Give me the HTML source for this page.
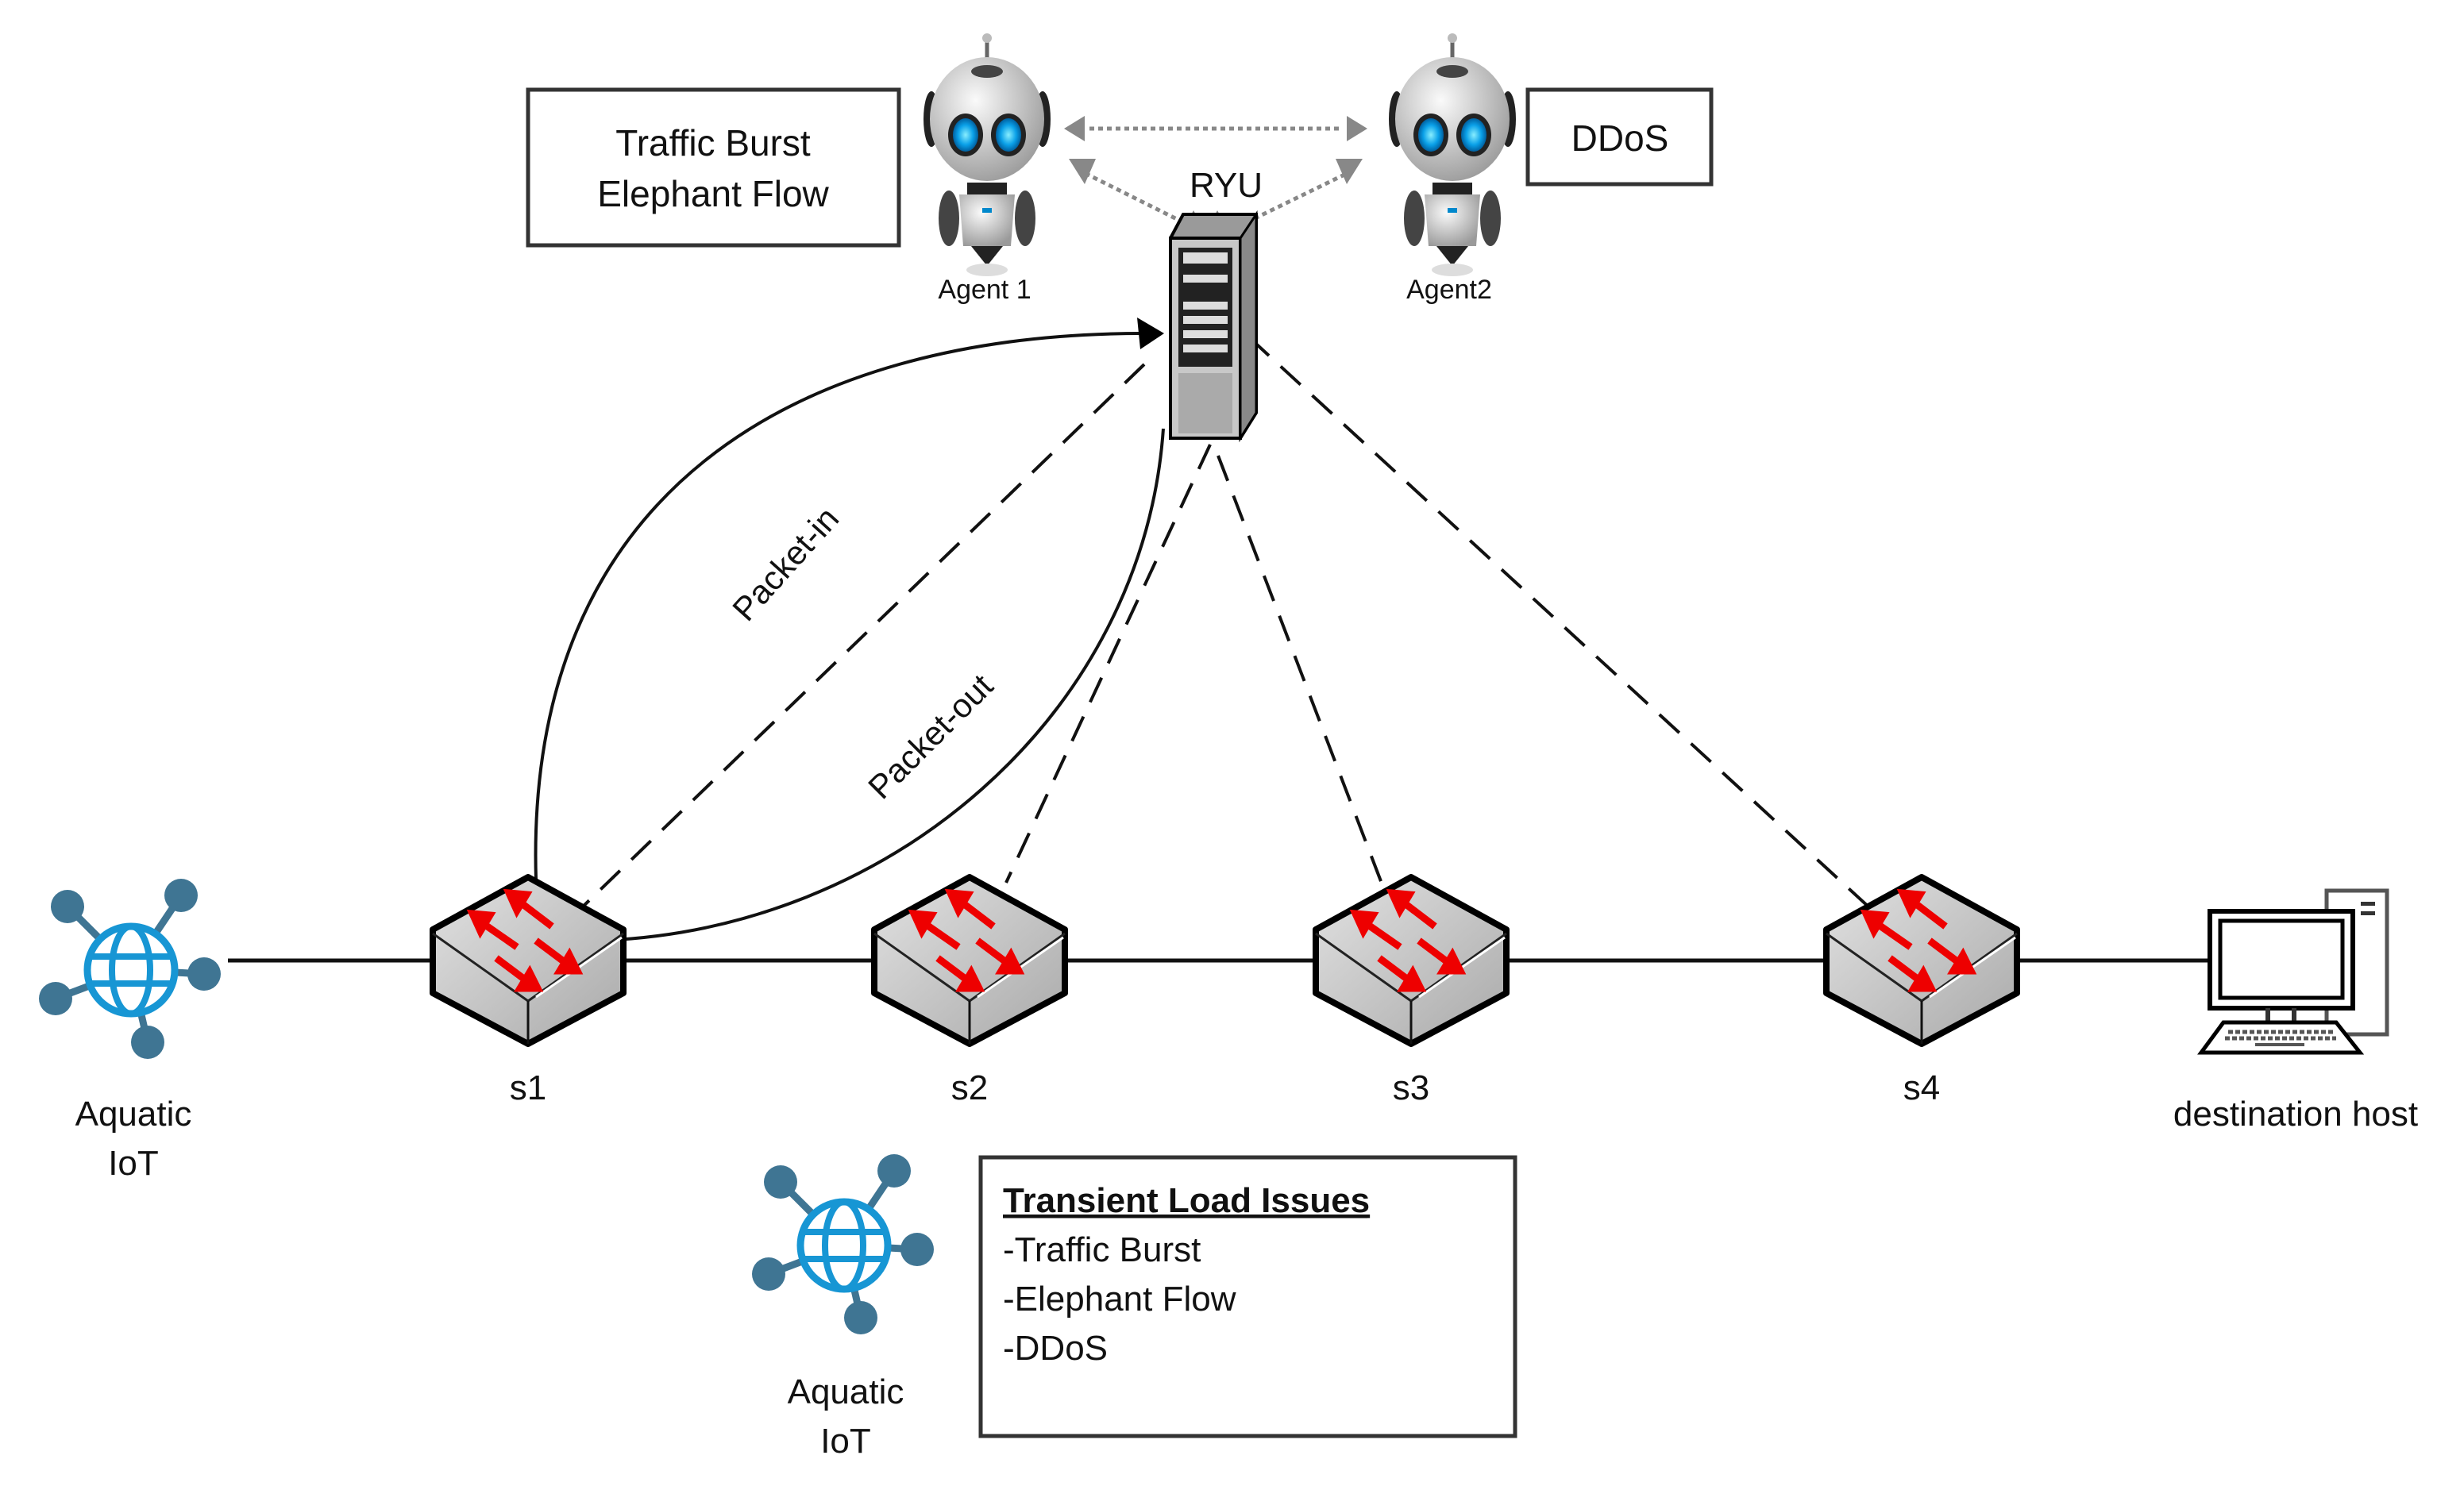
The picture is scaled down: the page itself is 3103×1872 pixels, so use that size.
<!DOCTYPE html>
<html><head><meta charset="utf-8"><style>
html,body{margin:0;padding:0;background:#fff;}
svg{display:block;}
text{font-family:"Liberation Sans",sans-serif;fill:#111;}
</style></head><body>
<svg width="3103" height="1872" viewBox="0 0 3103 1872" xmlns="http://www.w3.org/2000/svg">
<defs>
  <marker id="ah" viewBox="0 0 10 10" refX="9" refY="5" markerWidth="7" markerHeight="7" orient="auto-start-reverse" markerUnits="userSpaceOnUse">
  </marker>
  <linearGradient id="sg" x1="0" y1="0" x2="1" y2="1"><stop offset="0" stop-color="#e2e2e2"/><stop offset="1" stop-color="#a9a9a9"/></linearGradient>
  <g id="sw">
    <polygon points="0,-106 120,-40 120,40 0,104 -120,40 -120,-40" fill="url(#sg)" stroke="#000" stroke-width="8" stroke-linejoin="round"/>
    <polyline points="-120,-35 0,50 120,-35" fill="none" stroke="#222" stroke-width="3"/>
    <line x1="0" y1="50" x2="0" y2="104" stroke="#111" stroke-width="3"/>
    <line x1="10" y1="45" x2="118" y2="-30" stroke="#fff" stroke-width="3"/>
    <g stroke="#e00" stroke-width="9" fill="#e00">
      <line x1="-12" y1="-76" x2="30" y2="-44"/><polygon points="-24,-86 -2,-84 -14,-64"/>
      <line x1="-60" y1="-50" x2="-14" y2="-18"/><polygon points="-70,-60 -48,-58 -60,-38"/>
      <line x1="10" y1="-26" x2="50" y2="4"/><polygon points="62,12 40,12 52,-8"/>
      <line x1="-40" y1="-4" x2="0" y2="26"/><polygon points="12,34 -10,34 2,14"/>
    </g>
  </g>
  <g id="globe">
    <g stroke="#3f7593" stroke-width="9">
      <line x1="0" y1="0" x2="-80" y2="-80"/><line x1="0" y1="0" x2="63" y2="-94"/>
      <line x1="0" y1="0" x2="92" y2="5"/><line x1="0" y1="0" x2="-95" y2="36"/>
      <line x1="0" y1="0" x2="21" y2="91"/>
    </g>
    <g fill="#3f7593"><circle cx="-80" cy="-80" r="21"/><circle cx="63" cy="-94" r="21"/><circle cx="92" cy="5" r="21"/><circle cx="-95" cy="36" r="21"/><circle cx="21" cy="91" r="21"/></g>
    <circle r="55" fill="#fff" stroke="#1796d4" stroke-width="9"/>
    <ellipse rx="24" ry="55" fill="none" stroke="#1796d4" stroke-width="8"/>
    <line x1="-52" y1="-17" x2="52" y2="-17" stroke="#1796d4" stroke-width="8"/>
    <line x1="-52" y1="17" x2="52" y2="17" stroke="#1796d4" stroke-width="8"/>
  </g>
  <radialGradient id="rg" cx="0.4" cy="0.35" r="0.7"><stop offset="0" stop-color="#fafafa"/><stop offset="1" stop-color="#9a9a9a"/></radialGradient>
  <radialGradient id="eg"><stop offset="0" stop-color="#8ef"/><stop offset="0.6" stop-color="#0aa0e8"/><stop offset="1" stop-color="#0060a0"/></radialGradient>
  <g id="robot">
    <line x1="0" y1="-150" x2="0" y2="-110" stroke="#666" stroke-width="5"/>
    <circle cx="0" cy="-152" r="6" fill="#bbb"/>
    <ellipse cx="-70" cy="-50" rx="10" ry="35" fill="#222"/><ellipse cx="70" cy="-50" rx="10" ry="35" fill="#222"/>
    <ellipse cx="0" cy="-50" rx="72" ry="78" fill="url(#rg)"/>
    <ellipse cx="0" cy="-110" rx="20" ry="8" fill="#444"/>
    <ellipse cx="-27" cy="-30" rx="22" ry="27" fill="#222"/><ellipse cx="27" cy="-30" rx="22" ry="27" fill="#222"/>
    <ellipse cx="-27" cy="-30" rx="16" ry="21" fill="url(#eg)"/><ellipse cx="27" cy="-30" rx="16" ry="21" fill="url(#eg)"/>
    <rect x="-25" y="30" width="50" height="16" fill="#222"/>
    <path d="M-35,45 L35,45 L30,110 L-30,110 Z" fill="url(#rg)"/>
    <ellipse cx="-48" cy="75" rx="13" ry="35" fill="#444"/><ellipse cx="48" cy="75" rx="13" ry="35" fill="#444"/>
    <rect x="-6" y="62" width="12" height="6" fill="#08c"/>
    <path d="M-20,110 L20,110 L0,135 Z" fill="#222"/>
    <ellipse cx="0" cy="140" rx="26" ry="8" fill="#ddd"/>
  </g>
</defs>

<!-- main horizontal line -->
<line x1="287" y1="1210" x2="2783" y2="1210" stroke="#111" stroke-width="5"/>

<!-- dashed lines -->
<g stroke="#111" stroke-width="4" stroke-dasharray="34,20" fill="none">
  <line x1="1441" y1="459" x2="732" y2="1144"/>
  <line x1="1524" y1="560" x2="1267" y2="1112"/>
  <line x1="1534" y1="574" x2="1742" y2="1118"/>
  <line x1="1573" y1="425" x2="2355" y2="1144"/>
</g>

<!-- curves -->
<path d="M675,1108 C660,620 1000,420 1440,420" fill="none" stroke="#111" stroke-width="4"/>
<polygon points="1466,420 1432,400 1436,440" fill="#000"/>
<path d="M1465,540 C1440,900 1120,1175 750,1185" fill="none" stroke="#111" stroke-width="4"/>
<polygon points="722,1185 756,1165 756,1205" fill="#000"/>

<!-- switches -->
<use href="#sw" x="665" y="1211"/>
<use href="#sw" x="1221" y="1211"/>
<use href="#sw" x="1777" y="1211"/>
<use href="#sw" x="2420" y="1211"/>

<!-- dotted arrows -->
<g stroke="#888" stroke-width="5" stroke-dasharray="6,5" fill="none">
  <line x1="1372" y1="162" x2="1690" y2="162"/>
  <line x1="1500" y1="285" x2="1370" y2="220"/>
  <line x1="1560" y1="285" x2="1693" y2="220"/>
</g>
<g fill="#888">
  <polygon points="1340,162 1366,146 1366,178"/>
  <polygon points="1722,162 1696,146 1696,178"/>
  <polygon points="1346,200 1380,200 1366,232"/>
  <polygon points="1716,200 1682,200 1696,232"/>
  <polygon points="1503,265 1517,290 1490,290"/>
  <polygon points="1533,265 1547,290 1520,290"/>
</g>

<!-- server -->
<g>
  <polygon points="1474,300 1490,270 1582,270 1582,520 1562,552 1474,552" fill="#9a9a9a" stroke="#000" stroke-width="4"/>
  <rect x="1474" y="300" width="88" height="252" fill="#c8c8c8" stroke="#000" stroke-width="4"/>
  <polygon points="1562,300 1582,270 1582,520 1562,552" fill="#888" stroke="#000" stroke-width="3"/>
  <rect x="1484" y="312" width="68" height="150" fill="#222"/>
  <g fill="#ddd"><rect x="1490" y="318" width="56" height="14"/><rect x="1490" y="346" width="56" height="10"/><rect x="1490" y="380" width="56" height="10"/><rect x="1490" y="398" width="56" height="10"/><rect x="1490" y="416" width="56" height="10"/><rect x="1490" y="434" width="56" height="10"/></g>
  <rect x="1484" y="470" width="68" height="76" fill="#aaa"/>
</g>

<!-- robots -->
<use href="#robot" x="1243" y="200"/>
<use href="#robot" x="1829" y="200"/>

<!-- boxes -->
<rect x="665" y="113" width="467" height="196" fill="#fff" stroke="#333" stroke-width="5"/>
<text x="898" y="196" font-size="46" text-anchor="middle">Traffic Burst</text>
<text x="898" y="260" font-size="46" text-anchor="middle">Elephant Flow</text>
<rect x="1924" y="113" width="231" height="119" fill="#fff" stroke="#333" stroke-width="5"/>
<text x="2040" y="190" font-size="46" text-anchor="middle">DDoS</text>

<text x="1544" y="248" font-size="44" text-anchor="middle">RYU</text>
<text x="1240" y="376" font-size="34" text-anchor="middle">Agent 1</text>
<text x="1825" y="376" font-size="34" text-anchor="middle">Agent2</text>

<text transform="translate(1000,720) rotate(-48)" font-size="42" text-anchor="middle">Packet-in</text>
<text transform="translate(1182,938) rotate(-45)" font-size="42" text-anchor="middle">Packet-out</text>

<!-- globes -->
<use href="#globe" x="165" y="1222"/>
<use href="#globe" x="1063" y="1569"/>

<!-- computer -->
<g stroke="#000" fill="#fff">
  <rect x="2930" y="1122" width="76" height="181" stroke-width="5" stroke="#555"/>
  <rect x="2973" y="1136" width="18" height="5" fill="#333" stroke="none"/>
  <rect x="2973" y="1148" width="18" height="5" fill="#333" stroke="none"/>
  <rect x="2783" y="1148" width="180" height="122" stroke-width="6"/>
  <rect x="2796" y="1160" width="154" height="97" stroke-width="5"/>
  <rect x="2853" y="1270" width="6" height="18" fill="#333" stroke="none"/>
  <rect x="2886" y="1270" width="6" height="18" fill="#333" stroke="none"/>
  <polygon points="2800,1288 2942,1288 2972,1326 2772,1326" stroke-width="5"/>
  <line x1="2806" y1="1300" x2="2938" y2="1300" stroke="#555" stroke-width="5" stroke-dasharray="6,3"/>
  <line x1="2802" y1="1308" x2="2942" y2="1308" stroke="#555" stroke-width="5" stroke-dasharray="6,3"/>
  <line x1="2840" y1="1316" x2="2902" y2="1316" stroke="#555" stroke-width="4"/>
</g>

<!-- labels -->
<g font-size="44" text-anchor="middle">
  <text x="665" y="1385">s1</text>
  <text x="1221" y="1385">s2</text>
  <text x="1777" y="1385">s3</text>
  <text x="2420" y="1385">s4</text>
  <text x="168" y="1418">Aquatic</text>
  <text x="168" y="1480">IoT</text>
  <text x="1065" y="1768">Aquatic</text>
  <text x="1065" y="1830">IoT</text>
  <text x="2891" y="1418">destination  host</text>
</g>

<rect x="1235" y="1458" width="673" height="351" fill="#fff" stroke="#333" stroke-width="5"/>
<g font-size="44">
  <text x="1263" y="1527" font-weight="bold" text-decoration="underline">Transient Load Issues</text>
  <line x1="1263" y1="1533" x2="1722" y2="1533" stroke="#111" stroke-width="3"/>
  <text x="1263" y="1589">-Traffic Burst</text>
  <text x="1263" y="1651">-Elephant Flow</text>
  <text x="1263" y="1713">-DDoS</text>
</g>
</svg>
</body></html>
